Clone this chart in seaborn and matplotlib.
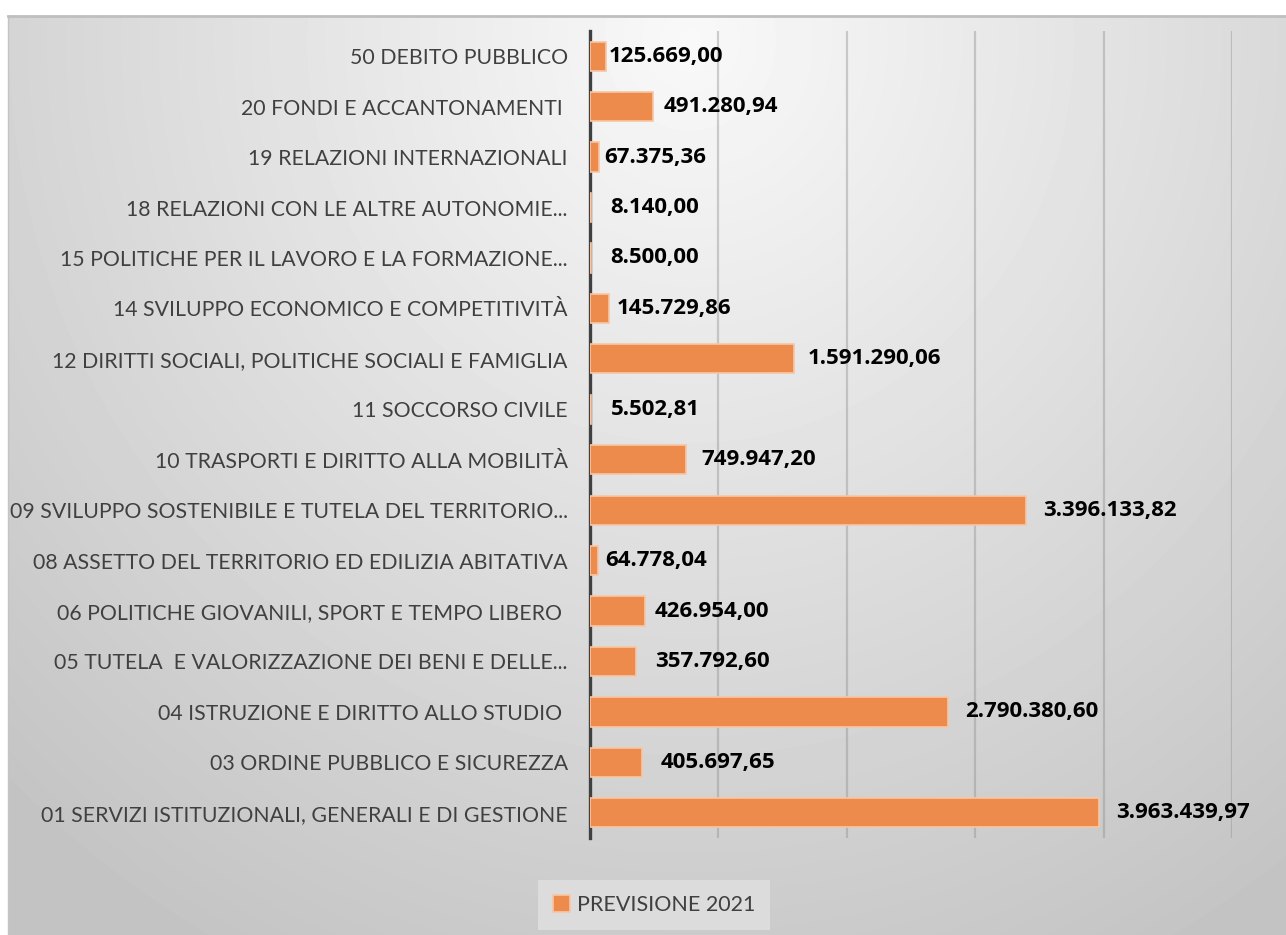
import numpy as np
import pandas as pd
import matplotlib
matplotlib.use("Agg")
import matplotlib.pyplot as plt
import seaborn as sns
from matplotlib.patches import Patch

# =========================
# Dati
# =========================
missioni = [
    "50 DEBITO PUBBLICO",
    "20 FONDI E ACCANTONAMENTI ",
    "19 RELAZIONI INTERNAZIONALI",
    "18 RELAZIONI CON LE ALTRE AUTONOMIE...",
    "15 POLITICHE PER IL LAVORO E LA FORMAZIONE...",
    "14 SVILUPPO ECONOMICO E COMPETITIVITÀ",
    "12 DIRITTI SOCIALI, POLITICHE SOCIALI E FAMIGLIA",
    "11 SOCCORSO CIVILE",
    "10 TRASPORTI E DIRITTO ALLA MOBILITÀ",
    "09 SVILUPPO SOSTENIBILE E TUTELA DEL TERRITORIO...",
    "08 ASSETTO DEL TERRITORIO ED EDILIZIA ABITATIVA",
    "06 POLITICHE GIOVANILI, SPORT E TEMPO LIBERO ",
    "05 TUTELA  E VALORIZZAZIONE DEI BENI E DELLE...",
    "04 ISTRUZIONE E DIRITTO ALLO STUDIO ",
    "03 ORDINE PUBBLICO E SICUREZZA",
    "01 SERVIZI ISTITUZIONALI, GENERALI E DI GESTIONE",
]
previsione_2021 = [
    125669.00, 491280.94, 67375.36, 8140.00, 8500.00, 145729.86,
    1591290.06, 5502.81, 749947.20, 3396133.82, 64778.04, 426954.00,
    357792.60, 2790380.60, 405697.65, 3963439.97,
]
serie = "PREVISIONE 2021"
# spostamento delle etichette (pixel) come nel grafico originale
offset_etichette = [0, 8, 3, 16, 16, 5, 11, 17, 12, 14, 4, 7, 16, 14, 16, 14]

df = pd.DataFrame({"missione": missioni, "valore": previsione_2021})


def formato_it(v):
    s = f"{v:,.2f}"
    return s.replace(",", "X").replace(".", ",").replace("X", ".")


# =========================
# Figura
# =========================
sns.set_theme(style="white")
plt.rcParams["font.family"] = ["Lato", "DejaVu Sans"]

W, H = 1286, 935
fig = plt.figure(figsize=(W / 100, H / 100), dpi=100)
fig.patch.set_facecolor("white")

# sfondo sfumato
bg = fig.add_axes([8 / W, 0, 1 - 8 / W, 1 - 16 / H], zorder=0)
yy, xx = np.mgrid[16:H, 8:W]
r = np.sqrt(((xx - 690) / 1.0) ** 2 + ((yy - 40) / 1.05) ** 2)
grad = 0.975 - 0.21 * np.clip(r / 1000, 0, 1)
bg.imshow(grad, cmap="gray", vmin=0, vmax=1, aspect="auto", interpolation="bilinear")
bg.set_xticks([])
bg.set_yticks([])
for s in bg.spines.values():
    s.set_visible(False)
bg.spines["top"].set_visible(True)
bg.spines["top"].set_color("#bfbfbf")
bg.spines["top"].set_linewidth(2)
bg.spines["left"].set_visible(True)
bg.spines["left"].set_color("#c4c4c4")
bg.spines["left"].set_linewidth(1)

ax = fig.add_axes([590 / W, 1 - 838 / H, (1232 - 590) / W, (838 - 31) / H], zorder=1)
ax.patch.set_alpha(0)

sns.barplot(data=df, y="missione", x="valore", color="#ED8B4C", saturation=1,
            width=0.58, edgecolor="#F8C6A4", linewidth=1.2, ax=ax, zorder=3)

ax.set_xlim(0, 5_000_000)
ax.set_ylim(15.5, -0.5)
ax.set_xticks([1e6, 2e6, 3e6, 4e6, 5e6])
ax.set_xticklabels([])
ax.tick_params(axis="x", length=0)
ax.grid(axis="x", color="#8c8c8c", alpha=0.4, linewidth=1.6, zorder=0)
ax.set_xlabel("")
ax.set_ylabel("")
ax.tick_params(axis="y", length=0, pad=16, labelsize=15.3, labelcolor="#404040")

for s in ["top", "right", "bottom"]:
    ax.spines[s].set_visible(False)
ax.spines["left"].set_color("#404040")
ax.spines["left"].set_linewidth(2.4)

for i, v in enumerate(previsione_2021):
    ax.annotate(formato_it(v), xy=(v, i), xytext=(offset_etichette[i] * 0.72 + 2, 0),
                textcoords="offset points", va="center", ha="left",
                fontsize=16, fontweight="bold", color="black",
                family=["Open Sans", "DejaVu Sans"], zorder=4)

handle = Patch(facecolor="#ED8B4C", edgecolor="#F8C6A4", linewidth=1.2)
leg = fig.legend([handle], [serie], loc="center", bbox_to_anchor=(654 / W, 1 - 905 / H),
                 frameon=True, fancybox=False, fontsize=15.5, handlelength=0.8,
                 handleheight=0.8, handletextpad=0.3, borderpad=0.7,
                 labelcolor="#404040")
leg.get_frame().set_facecolor("#dcdcdc")
leg.get_frame().set_edgecolor("none")
leg.get_frame().set_alpha(1)

fig.savefig("out.png", dpi=100)
